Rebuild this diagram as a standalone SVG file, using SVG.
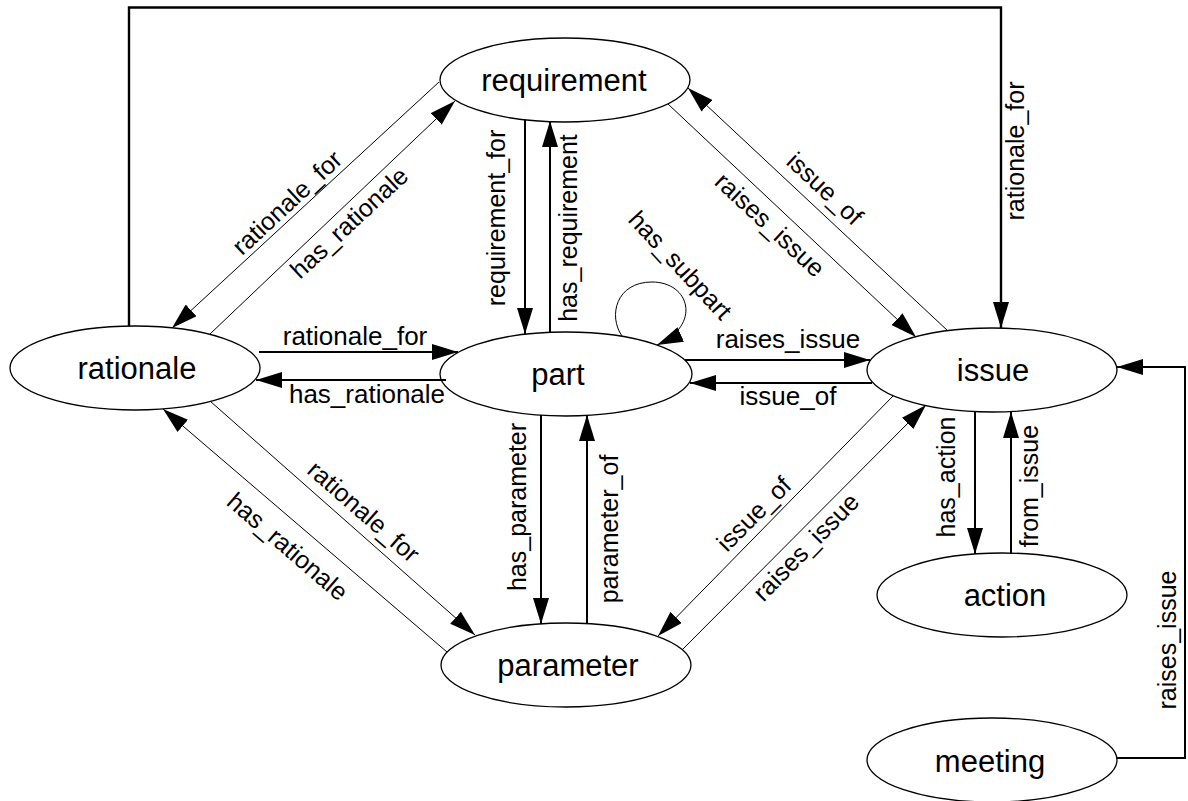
<svg xmlns="http://www.w3.org/2000/svg" width="1188" height="801" viewBox="0 0 1188 801">
<style>
.node ellipse{fill:#fff;stroke:#000;stroke-width:1.3}
.node text{font-family:"Liberation Sans",Arial,Helvetica,sans-serif;font-size:31px;text-anchor:middle;fill:#000}
.thick{stroke:#000;stroke-width:2;fill:none}
.thin{stroke:#000;stroke-width:1;fill:none}
.frame{stroke:#000;stroke-width:2.4;fill:none}
.lbl{font-family:"Liberation Sans",Arial,Helvetica,sans-serif;font-size:25px;text-anchor:middle;fill:#000}
.hl{font-size:26px}
</style>
<defs>
<marker id="ah" markerUnits="userSpaceOnUse" markerWidth="26" markerHeight="16" refX="26" refY="8" orient="auto" viewBox="0 0 26 16">
<path d="M0,0 L26,8 L0,16 z" fill="#000"/>
</marker>
</defs>
<rect width="1188" height="801" fill="#fff"/>
<g id="nodes">
<g id="requirement" class="node"><ellipse cx="565" cy="80" rx="125" ry="42"/><text x="564" y="91">requirement</text></g>
<g id="rationale" class="node"><ellipse cx="135" cy="368" rx="125" ry="42"/><text x="137" y="379">rationale</text></g>
<g id="part" class="node"><ellipse cx="566" cy="374" rx="126" ry="42"/><text x="558" y="385">part</text></g>
<g id="issue" class="node"><ellipse cx="992" cy="370" rx="125" ry="42"/><text x="993" y="381">issue</text></g>
<g id="action" class="node"><ellipse cx="1002" cy="595" rx="125" ry="42"/><text x="1005" y="606">action</text></g>
<g id="parameter" class="node"><ellipse cx="566" cy="665" rx="125" ry="42"/><text x="568" y="676">parameter</text></g>
<g id="meeting" class="node"><ellipse cx="992" cy="760" rx="125" ry="42"/><text x="990" y="772">meeting</text></g>
</g>
<g id="connectors">
<path class="frame" d="M129,326 V7.5 H1001 V328" marker-end="url(#ah)"/>
<path class="thin" d="M439,82 L172,328" marker-end="url(#ah)"/>
<path class="thin" d="M210,334 L455,101" marker-end="url(#ah)"/>
<path class="thin" d="M948,331 L688,88" marker-end="url(#ah)"/>
<path class="thin" d="M668,104 L916,337" marker-end="url(#ah)"/>
<path class="thin" d="M210,401 L475,635" marker-end="url(#ah)"/>
<path class="thin" d="M447,652 L163,409" marker-end="url(#ah)"/>
<path class="thin" d="M893,396 L658,636" marker-end="url(#ah)"/>
<path class="thin" d="M683,649 L926,405" marker-end="url(#ah)"/>
<path class="thick" d="M525,120 L525,334" marker-end="url(#ah)"/>
<path class="thick" d="M550,333 L550,121" marker-end="url(#ah)"/>
<path class="thick" d="M259,352 L458,352" marker-end="url(#ah)"/>
<path class="thick" d="M446,380 L256,380" marker-end="url(#ah)"/>
<path class="thick" d="M685,360 L870,360" marker-end="url(#ah)"/>
<path class="thick" d="M872,383 L690,383" marker-end="url(#ah)"/>
<path class="thick" d="M541,415 L541,624" marker-end="url(#ah)"/>
<path class="thick" d="M587,624 L587,415" marker-end="url(#ah)"/>
<path class="thick" d="M975,412 L975,554" marker-end="url(#ah)"/>
<path class="thick" d="M1011,554 L1011,412" marker-end="url(#ah)"/>
<path class="thick" d="M1117,758 H1185 V367 H1117" marker-end="url(#ah)"/>
<path class="thin" d="M622,336 C608,316 616,282 652,282 C690,282 702,325 657,345" marker-end="url(#ah)"/>
</g>
<g id="labels">
<text class="lbl hl" x="355" y="345">rationale_for</text>
<text class="lbl hl" x="367" y="403">has_rationale</text>
<text class="lbl hl" x="788" y="348">raises_issue</text>
<text class="lbl hl" x="788" y="405">issue_of</text>
<text class="lbl" transform="translate(505,218) rotate(-90)">requirement_for</text>
<text class="lbl" transform="translate(577,228) rotate(-90)">has_requirement</text>
<text class="lbl" transform="translate(526,507) rotate(-90)">has_parameter</text>
<text class="lbl" transform="translate(618,529) rotate(-90)">parameter_of</text>
<text class="lbl" transform="translate(955,477) rotate(-90)">has_action</text>
<text class="lbl" transform="translate(1038,486) rotate(-90)">from_issue</text>
<text class="lbl" transform="translate(1024,151) rotate(-90)">rationale_for</text>
<text class="lbl" transform="translate(1176,640) rotate(-90)">raises_issue</text>
<text class="lbl" transform="translate(293,209) rotate(-42.9)">rationale_for</text>
<text class="lbl" transform="translate(355,229) rotate(-42.9)">has_rationale</text>
<text class="lbl" transform="translate(764,231) rotate(43)">raises_issue</text>
<text class="lbl" transform="translate(819,195) rotate(43)">issue_of</text>
<text class="lbl" transform="translate(674,271) rotate(47)">has_subpart</text>
<text class="lbl" transform="translate(358,518) rotate(41.2)">rationale_for</text>
<text class="lbl" transform="translate(282,553) rotate(40.8)">has_rationale</text>
<text class="lbl" transform="translate(760,520) rotate(-45)">issue_of</text>
<text class="lbl" transform="translate(812,553) rotate(-45.6)">raises_issue</text>
</g>
</svg>
